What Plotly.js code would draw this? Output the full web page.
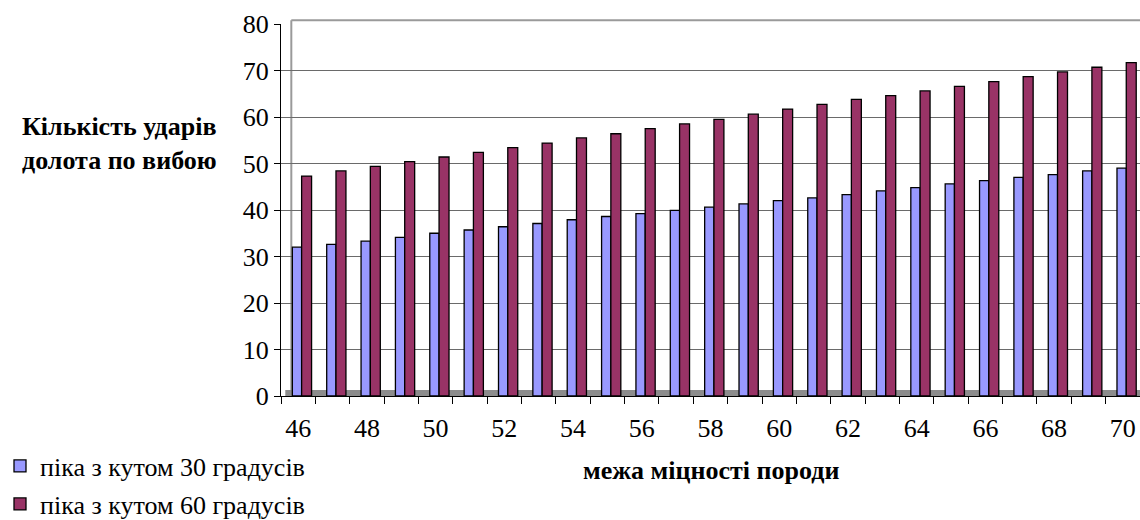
<!DOCTYPE html>
<html>
<head>
<meta charset="utf-8">
<script src="https://cdn.plot.ly/plotly-3.0.1.min.js"></script>
<style>html,body{margin:0;padding:0;background:#fff;}#chart{width:1140px;height:520px;}</style>
</head>
<body>
<div id="chart"></div>
<script>
// Categories: межа міцності породи
var categories = [46,47,48,49,50,51,52,53,54,55,56,57,58,59,60,61,62,63,64,65,66,67,68,69,70];
// Series values
var seriesAngle30 = [32.0,32.6,33.3,34.1,35.0,35.7,36.4,37.1,37.9,38.6,39.2,39.9,40.6,41.3,42.0,42.6,43.3,44.1,44.8,45.6,46.3,47.0,47.6,48.4,49.0];
var seriesAngle60 = [47.3,48.4,49.4,50.4,51.4,52.4,53.4,54.4,55.5,56.4,57.5,58.5,59.5,60.6,61.7,62.7,63.8,64.6,65.6,66.6,67.6,68.7,69.7,70.7,71.7];
var xTickLabels = [46,48,50,52,54,56,58,60,62,64,66,68,70];
var yTickLabels = [0,10,20,30,40,50,60,70,80];
var seriesNames = ["піка з кутом 30 градусів", "піка з кутом 60 градусів"];
var yTitle = "Кількість ударів<br>долота по вибою";
var xTitle = "межа міцності породи";

var serif = "Liberation Serif";

var traces = [
  {type:'bar', x:categories, y:seriesAngle30, name:seriesNames[0], width:0.27, offset:-0.17,
   marker:{color:'#9999FF', line:{color:'#000000', width:1.3}}, legend:'legend'},
  {type:'bar', x:categories, y:seriesAngle60, name:seriesNames[1], width:0.29, offset:0.10,
   marker:{color:'#993366', line:{color:'#000000', width:1.3}}, legend:'legend2'}
];

var layout = {
  width:1140, height:520,
  margin:{l:281, r:0, t:24, b:124, autoexpand:false},
  paper_bgcolor:'#ffffff', plot_bgcolor:'#ffffff',
  barmode:'overlay',
  font:{family:serif, color:'#000000', size:26},
  xaxis:{
    range:[45.5,70.5], tickmode:'array', tickvals:xTickLabels, ticktext:xTickLabels.map(String),
    ticks:'outside', ticklen:9, tickcolor:'rgba(0,0,0,0)', showgrid:false, zeroline:false,
    showline:true, linecolor:'#000000', linewidth:1, automargin:false,
    tickfont:{family:serif, size:26, color:'#000'},
    minor:{ticks:'outside', tick0:45.5, dtick:1, ticklen:7, tickcolor:'#000', showgrid:false},
    fixedrange:true
  },
  yaxis:{
    range:[0,80], tickmode:'array', tickvals:yTickLabels, ticktext:yTickLabels.map(String),
    ticks:'outside', ticklen:6, tickcolor:'#000',
    showline:true, linecolor:'#000000', linewidth:1, automargin:false,
    showgrid:true, gridcolor:'#6a6a6a', gridwidth:1,
    zeroline:false,
    tickfont:{family:serif, size:26, color:'#000'},
    fixedrange:true
  },
  showlegend:true,
  legend:{xref:'container', yref:'container', x:0, y:1-466/520, yanchor:'middle', xanchor:'left',
          font:{family:serif, size:26, color:'#000'}, bgcolor:'rgba(0,0,0,0)', itemwidth:30},
  legend2:{xref:'container', yref:'container', x:0, y:1-504/520, yanchor:'middle', xanchor:'left',
          font:{family:serif, size:26, color:'#000'}, bgcolor:'rgba(0,0,0,0)', itemwidth:30},
  annotations:[
    {text:'<b>'+yTitle+'</b>', xref:'paper', yref:'paper', x:(119-281)/859, y:(396-143)/372,
     xanchor:'center', yanchor:'middle', showarrow:false, align:'left',
     font:{family:serif, size:26, color:'#000'}},
    {text:'<b>'+xTitle+'</b>', xref:'paper', yref:'paper', x:(711-281)/859, y:(396-470)/372,
     xanchor:'center', yanchor:'middle', showarrow:false,
     font:{family:serif, size:26, color:'#000'}}
  ],
  shapes:[
    {type:'rect', xref:'paper', yref:'paper', x0:0.005, x1:1, y0:0, y1:0.016, layer:'below',
     fillcolor:'#8c8c8c', line:{width:0}},
    {type:'line', xref:'paper', yref:'paper', x0:0.012, x1:0.012, y0:0.016, y1:1.01, layer:'below',
     line:{color:'#9a9a9a', width:2}},
    {type:'line', xref:'paper', yref:'paper', x0:0.012, x1:1, y0:1.01, y1:1.01, layer:'below',
     line:{color:'#9a9a9a', width:2}}
  ]
};

Plotly.newPlot('chart', traces, layout, {displayModeBar:false, staticPlot:true});
</script>
</body>
</html>
